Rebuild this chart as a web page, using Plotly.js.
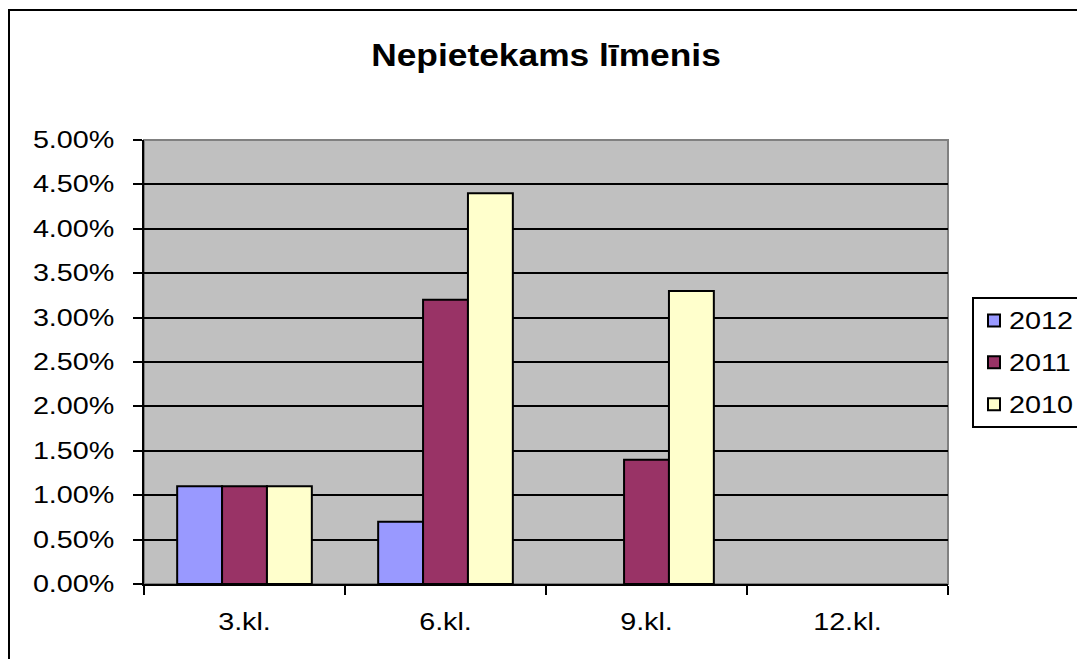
<!DOCTYPE html>
<html><head><meta charset="utf-8">
<script src="https://cdn.plot.ly/plotly-3.0.1.min.js"></script>
<style>html,body{margin:0;padding:0;background:#fff;overflow:hidden}#chart{width:1077px;height:659px}</style>
</head><body><div id="chart"></div>
<script>
const categories = ["3.kl.", "6.kl.", "9.kl.", "12.kl."];
const seriesNames = ["2012", "2011", "2010"];
const values2012 = [0.011, 0.007, null, null];
const values2011 = [0.011, 0.032, 0.014, null];
const values2010 = [0.011, 0.044, 0.033, null];
const yTicks = [0, 0.005, 0.01, 0.015, 0.02, 0.025, 0.03, 0.035, 0.04, 0.045, 0.05];
const colors = ["#9999FF", "#993366", "#FFFFCC"];
const allValues = [values2012, values2011, values2010];

const FONT = "Liberation Sans, Arial, sans-serif";
const traces = allValues.map((v, i) => ({
  type: "bar", x: categories, y: v, name: seriesNames[i],
  legendgroup: "g" + i,
  marker: {color: colors[i], line: {color: "#000", width: 2}},
  hoverinfo: "skip"
}));

const layout = {
  width: 1077, height: 659,
  margin: {l: 144, r: 129, t: 140, b: 75, autoexpand: false},
  paper_bgcolor: "#fff", plot_bgcolor: "#C0C0C0",
  font: {family: FONT, color: "#000", size: 23},
  title: {text: "<b>Nepietekams līmenis</b>", font: {family: FONT, size: 31, color: "#000"},
          x: 0.5, xanchor: "center", xref: "paper", y: 1 - 55/659, yanchor: "middle", yref: "container"},
  bargap: 0.33, bargroupgap: 0, barmode: "group",
  xaxis: {
    type: "category", categoryorder: "array", categoryarray: categories,
    showline: true, linecolor: "#000", linewidth: 2,
    ticks: "outside", ticklen: 9, tickwidth: 2, tickcolor: "#000", tickson: "boundaries",
    showgrid: false, ticklabelstandoff: 16, tickfont: {size: 23}, zeroline: false
  },
  yaxis: {
    range: [0, 0.05], tickvals: yTicks, tickformat: ".2%",
    showline: true, linecolor: "#000", linewidth: 2,
    ticks: "outside", ticklen: 9, tickwidth: 2, tickcolor: "#000",
    showgrid: true, gridcolor: "#000", gridwidth: 2, zeroline: false,
    ticklabelstandoff: 14, tickfont: {size: 23}
  },
  showlegend: true,
  legend: {
    x: (972 - 144) / 804, xanchor: "left", y: (584 - 297) / 444, yanchor: "top",
    bordercolor: "#000", borderwidth: 2, bgcolor: "#fff",
    font: {size: 23, family: FONT}, tracegroupgap: 9, traceorder: "grouped",
    itemwidth: 30
  },
  shapes: [
    {type: "rect", xref: "paper", yref: "paper", x0: 0, x1: 1, y0: 0, y1: 1,
     line: {color: "#808080", width: 2}, layer: "below"},
    {type: "rect", xref: "paper", yref: "paper",
     x0: (9 - 144) / 804, x1: (1100 - 144) / 804, y0: (584 - 700) / 444, y1: (584 - 10) / 444,
     line: {color: "#000", width: 2}, fillcolor: "rgba(0,0,0,0)"}
  ]
};
Plotly.newPlot("chart", traces, layout, {displayModeBar: false, staticPlot: true}).then(gd => {
  // the reference's lettering is horizontally wider than the font; widen glyphs to match
  gd.querySelectorAll("text").forEach(t => {
    if (!t.textContent.trim()) return;
    const k = t.closest(".g-gtitle") || t.classList.contains("gtitle") ? 1.14 : 1.25;
    const len = t.getComputedTextLength();
    t.setAttribute("textLength", (len * k).toFixed(1));
    t.setAttribute("lengthAdjust", "spacingAndGlyphs");
  });
  // legend text sits a little closer to its swatch in the reference
  gd.querySelectorAll(".legend text.legendtext").forEach(t => {
    const x = parseFloat(t.getAttribute("x") || "0");
    t.setAttribute("x", x - 5);
  });
  // legend box runs past the right edge of the picture, as in the reference
  gd.querySelectorAll(".legend rect.bg").forEach(r => r.setAttribute("width", 200));
  document.querySelectorAll("clipPath[id*='legend'] rect").forEach(r => r.setAttribute("width", 200));
});
</script></body></html>
